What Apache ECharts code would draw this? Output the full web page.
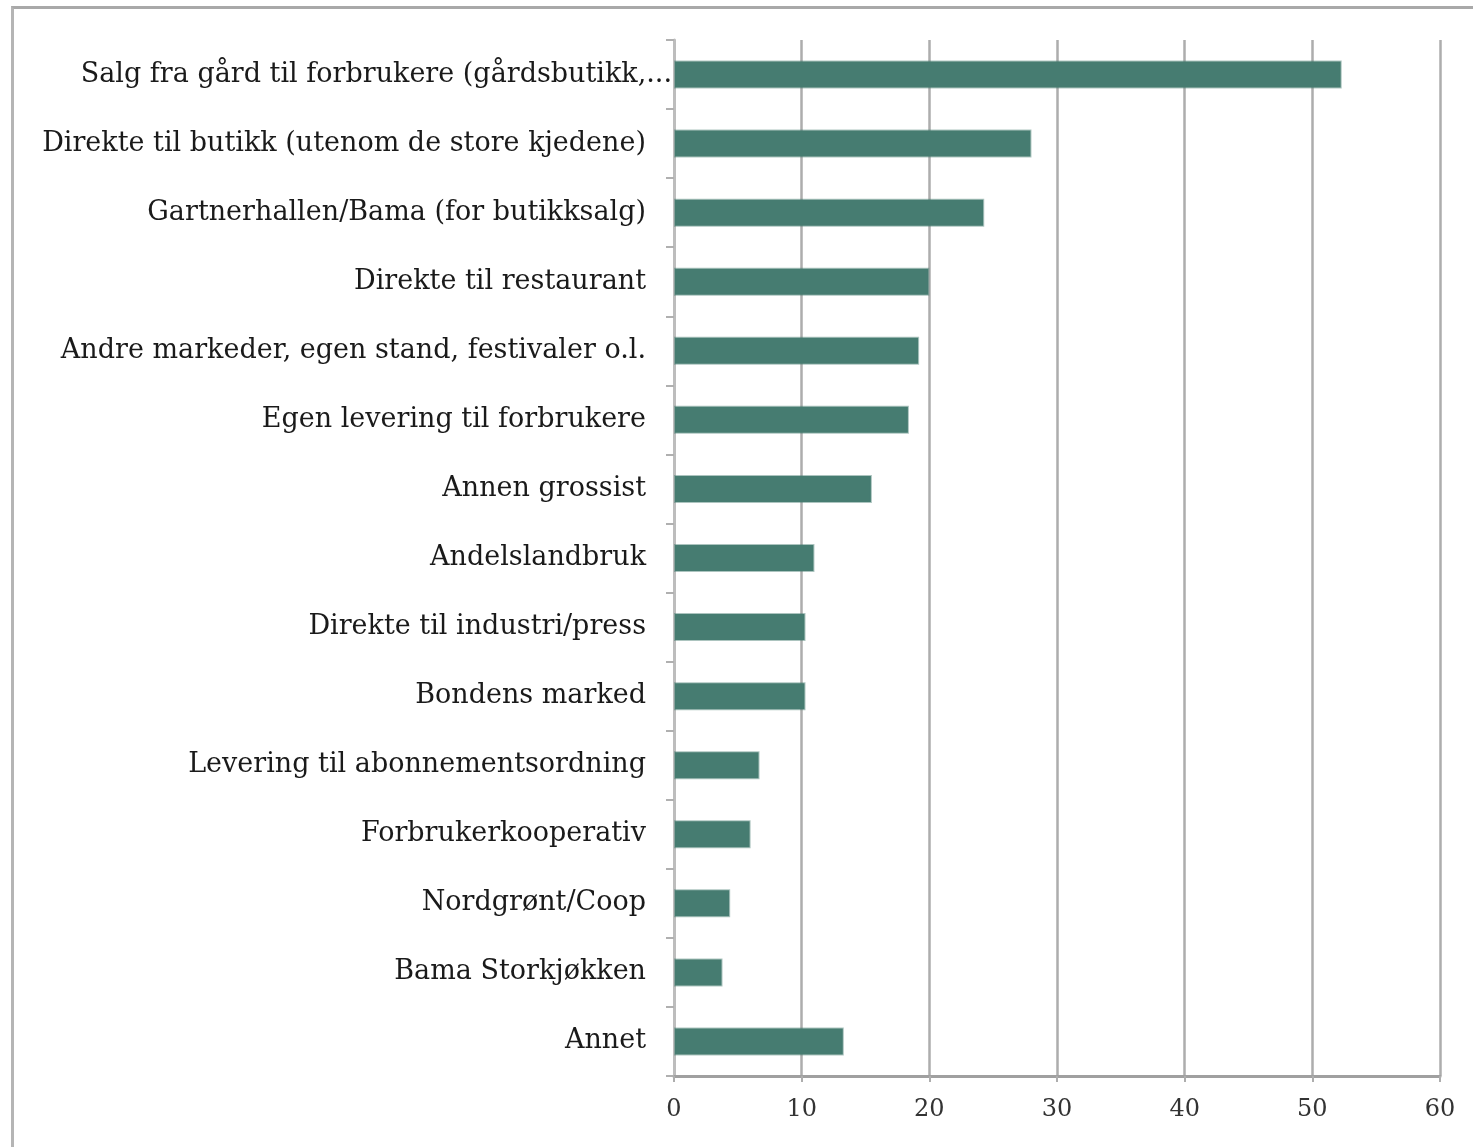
<!DOCTYPE html>
<html>
<head>
<meta charset="utf-8">
<title>Salgskanaler</title>
<script src="https://cdn.jsdelivr.net/npm/echarts@6/dist/echarts.min.js"></script>
<style>
  html, body { margin: 0; padding: 0; background: #fff; }
  #chart { position: absolute; left: 0; top: 0; width: 1473px; height: 1147px; }
  #frame { position: absolute; left: 11px; top: 6px; right: -10px; bottom: -10px;
           border-top: 3px solid #a9a9a9; border-left: 3px solid #b5b5b5; pointer-events: none; }
</style>
</head>
<body>
<div id="chart"></div>
<div id="frame"></div>
<script>
// kategorier, ovenfra og ned
var categories = [
  'Salg fra gård til forbrukere (gårdsbutikk,...',
  'Direkte til butikk (utenom de store kjedene)',
  'Gartnerhallen/Bama (for butikksalg)',
  'Direkte til restaurant',
  'Andre markeder, egen stand, festivaler o.l.',
  'Egen levering til forbrukere',
  'Annen grossist',
  'Andelslandbruk',
  'Direkte til industri/press',
  'Bondens marked',
  'Levering til abonnementsordning',
  'Forbrukerkooperativ',
  'Nordgrønt/Coop',
  'Bama Storkjøkken',
  'Annet'
];
var values = [52.3, 28.0, 24.3, 20.0, 19.2, 18.4, 15.5, 11.0, 10.3, 10.3, 6.7, 6.0, 4.4, 3.8, 13.3];
var xTicks = [0, 10, 20, 30, 40, 50, 60];

var serif = 'DejaVu Serif';

// den avkortede etiketten går helt inn til aksen i originalen
var yData = categories.map(function (c, i) {
  return i === 0 ? { value: c, textStyle: { padding: [0, -26, 0, 0] } } : c;
});

var chart = echarts.init(document.getElementById('chart'));
chart.setOption({
  animation: false,
  grid: { left: 674, right: 33, top: 40, bottom: 71, containLabel: false },
  xAxis: {
    type: 'value',
    min: xTicks[0],
    max: xTicks[xTicks.length - 1],
    interval: 10,
    axisLine: { show: true, lineStyle: { color: '#a0a0a0', width: 3 } },
    axisTick: { show: true, length: 6, lineStyle: { color: '#adadad', width: 2 } },
    splitLine: { show: true, lineStyle: { color: '#adadad', width: 2.5 } },
    axisLabel: { fontFamily: serif, fontSize: 24, color: '#333', margin: 22 }
  },
  yAxis: {
    type: 'category',
    inverse: true,
    data: yData,
    axisLine: { show: true, lineStyle: { color: '#bdbdbd', width: 3 } },
    axisTick: { show: true, length: 8, lineStyle: { color: '#b0b0b0', width: 2 } },
    axisLabel: { fontFamily: serif, fontSize: 27, color: '#1a1a1a', margin: 28 }
  },
  series: [{
    type: 'bar',
    data: values,
    barWidth: 28,
    itemStyle: { color: '#467c71', borderColor: 'rgba(70,124,113,0.45)', borderWidth: 2 }
  }]
});
</script>
</body>
</html>
